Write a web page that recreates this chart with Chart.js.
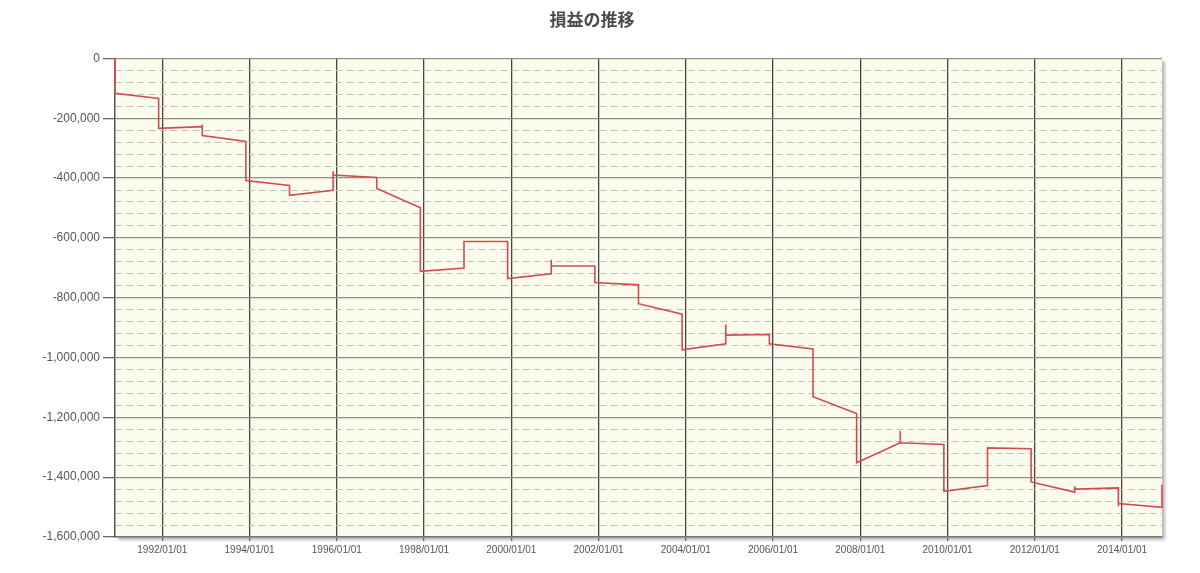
<!DOCTYPE html>
<html>
<head>
<meta charset="utf-8">
<script src="https://cdn.jsdelivr.net/npm/chart.js@4.4.1/dist/chart.umd.min.js"></script>
<style>
  html, body { margin: 0; padding: 0; background: #fff; }
  #wrap { width: 1200px; height: 573px; position: relative; }
</style>
</head>
<body>
<div id="wrap"><canvas id="pl-chart"></canvas></div>
<script>
/* ── DATA ── */
const TITLE = '損益の推移';

// dates of each point (same date twice = vertical jump)
const dates = [
  '1990/12/01','1990/12/01',
  '1991/12/01','1991/12/01',
  '1992/12/01','1992/12/01','1992/12/01',
  '1993/12/01','1993/12/01',
  '1994/12/01','1994/12/01',
  '1995/12/01','1995/12/01','1995/12/01',
  '1996/12/01','1996/12/01',
  '1997/12/01','1997/12/01',
  '1998/12/01','1998/12/01',
  '1999/12/01','1999/12/01',
  '2000/12/01','2000/12/01','2000/12/01',
  '2001/12/01','2001/12/01',
  '2002/12/01','2002/12/01',
  '2003/12/01','2003/12/01',
  '2004/12/01','2004/12/01','2004/12/01',
  '2005/12/01','2005/12/01',
  '2006/12/01','2006/12/01',
  '2007/12/01','2007/12/01',
  '2008/12/01','2008/12/01','2008/12/01',
  '2009/12/01','2009/12/01',
  '2010/12/01','2010/12/01',
  '2011/12/01','2011/12/01',
  '2012/12/01','2012/12/01','2012/12/01',
  '2013/12/01','2013/12/01','2013/12/01',
  '2014/12/01','2014/12/01'
];

// cumulative profit/loss
const pnl = [
  0, -117000,
  -134000, -234000,
  -228000, -221000, -258000,
  -278000, -408000,
  -425000, -458000,
  -441000, -377000, -390000,
  -398000, -435000,
  -499000, -712000,
  -701000, -612000,
  -612000, -736000,
  -720000, -673000, -694000,
  -694000, -749000,
  -757000, -820000,
  -855000, -974000,
  -954000, -890000, -925000,
  -923000, -954000,
  -971000, -1131000,
  -1187000, -1352000,
  -1285000, -1246000, -1285000,
  -1291000, -1447000,
  -1428000, -1302000,
  -1305000, -1416000,
  -1450000, -1430000, -1440000,
  -1436000, -1497000, -1488000,
  -1501000, -1425000
];

const xStart = '1990/12/01';
const xEnd   = '2014/12/01';
const xTickYears = [1992, 1994, 1996, 1998, 2000, 2002, 2004, 2006, 2008, 2010, 2012, 2014];

const yMin       = -1600000;
const yMax       = 0;
const yMinorStep = 40000;
const yMajorStep = 200000;

/* ── HELPERS ── */
function toYear(s) {
  const [y, m, d] = s.split('/').map(Number);
  const t0 = Date.UTC(y, 0, 1);
  const t1 = Date.UTC(y + 1, 0, 1);
  return y + (Date.UTC(y, m - 1, d) - t0) / (t1 - t0);
}

const points = dates.map((d, i) => ({ x: toYear(d), y: pnl[i] }));

const isMajor = v => v % yMajorStep === 0;

/* plot background with a soft shadow */
const plotBg = {
  id: 'plotBg',
  beforeDraw(chart) {
    const { ctx, chartArea: a } = chart;
    ctx.save();
    ctx.shadowColor = 'rgba(0,0,0,0.28)';
    ctx.shadowOffsetX = 3;
    ctx.shadowOffsetY = 3;
    ctx.shadowBlur = 3;
    ctx.fillStyle = '#fcfcee';
    ctx.fillRect(a.left, a.top, a.right - a.left, a.bottom - a.top);
    ctx.restore();
  }
};

const textClr = '#555';

new Chart(document.getElementById('pl-chart').getContext('2d'), {
  type: 'line',
  plugins: [plotBg],
  data: {
    datasets: [{
      label: TITLE,
      data: points,
      borderColor: '#d24b4e',
      borderWidth: 1.6,
      pointRadius: 0,
      tension: 0,
      fill: false,
      clip: 2
    }]
  },
  options: {
    responsive: true,
    maintainAspectRatio: false,
    animation: false,
    layout: { padding: { left: 0, right: 16, top: 0, bottom: 0 } },
    plugins: {
      legend: { display: false },
      tooltip: { enabled: false },
      title: {
        display: true,
        text: TITLE,
        color: '#4a4a4a',
        font: { size: 17, weight: 'bold', family: '"Noto Sans CJK JP", sans-serif' },
        padding: { top: 9, bottom: 29 }
      }
    },
    scales: {
      x: {
        type: 'linear',
        min: toYear(xStart),
        max: toYear(xEnd),
        afterBuildTicks: s => { s.ticks = xTickYears.map(v => ({ value: v })); },
        afterFit: s => { s.height = 36; },
        grid: { color: '#444', lineWidth: 1.3, tickLength: 4, tickColor: '#666' },
        border: { display: true, color: '#777', width: 1.5 },
        ticks: {
          autoSkip: false, maxRotation: 0, padding: 3, color: textClr,
          font: { size: 10, family: '"Liberation Sans", Arial, sans-serif' },
          callback: v => `${v}/01/01`
        }
      },
      y: {
        min: yMin,
        max: yMax,
        afterBuildTicks: s => {
          const t = [];
          for (let v = yMin; v <= yMax; v += yMinorStep) t.push({ value: v });
          s.ticks = t;
        },
        afterFit: s => { s.width = 115; },
        grid: {
          color: c => isMajor(c.tick.value) ? '#8e8e86' : '#c2c2b2',
          lineWidth: c => isMajor(c.tick.value) ? 1.3 : 1,
          tickLength: 12,
          tickColor: c => isMajor(c.tick.value) ? '#666' : 'rgba(0,0,0,0)'
        },
        border: {
          display: true, color: '#555', width: 1.5,
          dash: c => (c.tick && !isMajor(c.tick.value)) ? [7, 4] : []
        },
        ticks: {
          autoSkip: false, padding: 3, color: textClr,
          font: { size: 12, family: '"Liberation Sans", Arial, sans-serif' },
          callback: v => isMajor(v) ? v.toLocaleString('en-US') : ''
        }
      },
      yPad: {
        position: 'right',
        display: true,
        afterFit: s => { s.width = 22; },
        grid: { display: false },
        border: { display: false },
        ticks: { display: false }
      }
    }
  }
});
</script>
</body>
</html>
